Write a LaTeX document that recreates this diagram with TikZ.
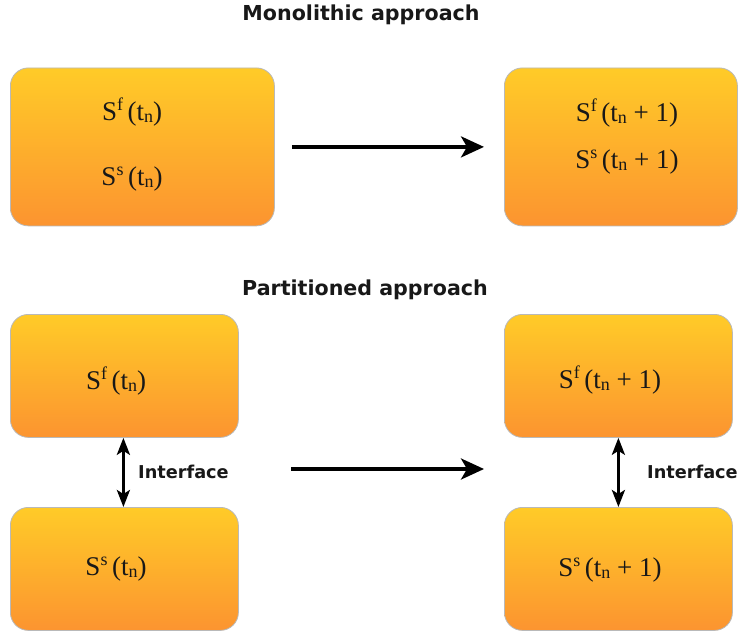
\documentclass[tikz,border=0pt]{standalone}
\usepackage{fontspec}
\setmainfont{Liberation Serif}
\newfontfamily\labelfont{DejaVu Sans}
\usetikzlibrary{arrows.meta,shadings}

\definecolor{boxtop}{RGB}{255,203,40}
\definecolor{boxbot}{RGB}{252,148,48}
\definecolor{boxline}{RGB}{185,185,185}
\definecolor{ink}{RGB}{24,24,24}

% state symbols: S with a field superscript, time t with subscript n
\newcommand\supf[1]{\raisebox{0.37em}{\fontsize{18}{18}\selectfont #1}}
\newcommand\subn[1]{\raisebox{-0.08em}{\fontsize{18}{18}\selectfont #1}}
\newcommand\statesym[2]{S\supf{#1}\,(t\subn{n}#2)}

\begin{document}
\begin{tikzpicture}[x=1pt,y=-1pt,
  stagebox/.style={draw=boxline, line width=0.8pt, rounded corners=18pt,
    top color=boxtop, bottom color=boxbot, inner sep=0pt, anchor=north west},
  statetext/.style={font=\fontsize{27}{30}\selectfont, text=ink, anchor=base, inner sep=0pt},
  titletext/.style={font=\labelfont\bfseries\fontsize{20.6}{24}\selectfont, text=ink, anchor=base, inner sep=0pt},
  iflabel/.style={font=\labelfont\bfseries\fontsize{17.7}{20}\selectfont, text=ink, anchor=base west, inner sep=0pt},
  flow/.style={-{Stealth[length=23pt,width=21pt,inset=6pt]}, line width=3.5pt, draw=black},
  link/.style={{Stealth[length=17pt,width=13pt,inset=4pt]}-{Stealth[length=17pt,width=13pt,inset=4pt]}, line width=3pt, draw=black}
]
\useasboundingbox (0,0) rectangle (738,634);

% ---- monolithic approach ----
\node[titletext] (t1) at (361,21) {Monolithic approach};
\node[stagebox, minimum width=264pt, minimum height=158pt] (mL) at (10,67.5) {};
\node[stagebox, minimum width=233pt, minimum height=158pt] (mR) at (504,67.5) {};
\node[statetext] (mLf) at (132,120) {\statesym{f}{}};
\node[statetext] (mLs) at (132,185) {\statesym{s}{}};
\node[statetext] (mRf) at (627,121) {\statesym{f}{ + 1}};
\node[statetext] (mRs) at (627,168) {\statesym{s}{ + 1}};
\draw[flow, shorten <=17pt, shorten >=20pt] (mL.east) -- (mR.west);

% ---- partitioned approach ----
\node[titletext] (t2) at (365,295) {Partitioned approach};
\node[stagebox, minimum width=228pt, minimum height=123pt] (pLf) at (10,314) {};
\node[stagebox, minimum width=228pt, minimum height=123pt] (pLs) at (10,507) {};
\node[stagebox, minimum width=228pt, minimum height=123pt] (pRf) at (504,314) {};
\node[stagebox, minimum width=228pt, minimum height=123pt] (pRs) at (504,507) {};
\node[statetext] (pLft) at (116,389) {\statesym{f}{}};
\node[statetext] (pLst) at (116,575) {\statesym{s}{}};
\node[statetext] (pRft) at (610,388) {\statesym{f}{ + 1}};
\node[statetext] (pRst) at (610,576) {\statesym{s}{ + 1}};

\draw[link] ([xshift=-1pt]pLf.south) -- ([xshift=-1pt]pLs.north);
\draw[link] (pRf.south) -- (pRs.north);
\node[iflabel] (ifL) at (138,478) {Interface};
\node[iflabel] (ifR) at (647,478) {Interface};

\coordinate (fromP) at (291,469);
\coordinate (toP) at (484,469);
\draw[flow] (fromP) -- (toP);
\end{tikzpicture}
\end{document}
